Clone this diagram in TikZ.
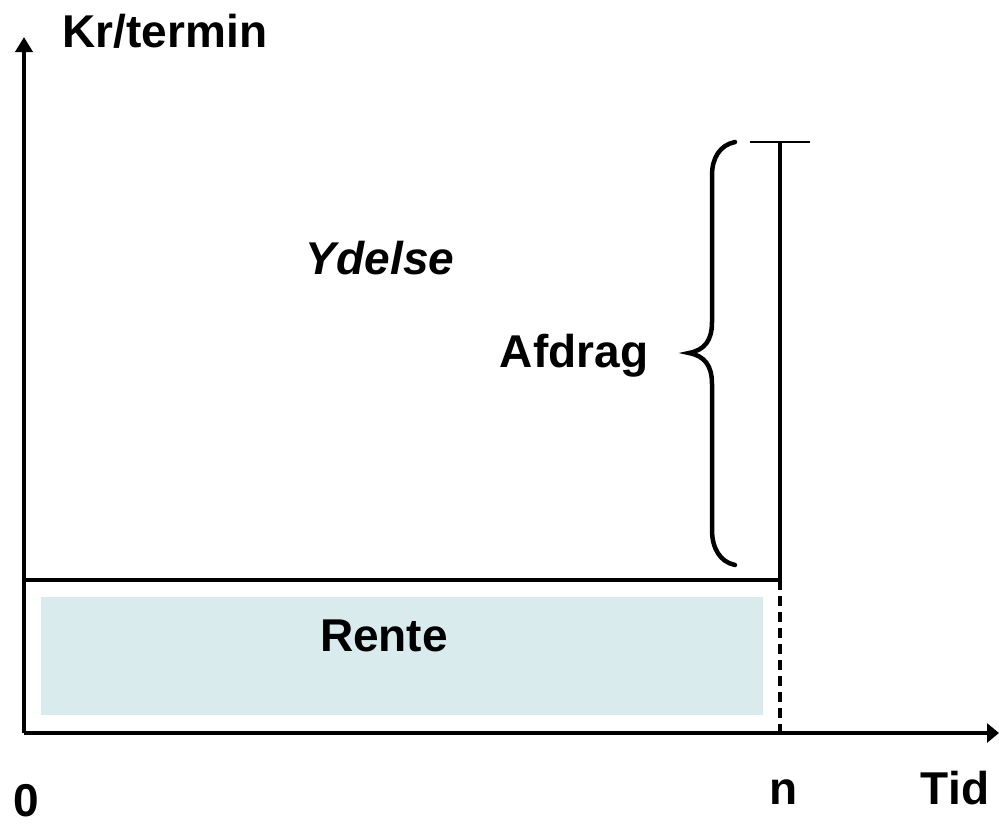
\documentclass[tikz,border=0pt]{standalone}
\usepackage{fontspec}
\setmainfont{Liberation Sans}
\usetikzlibrary{arrows.meta}
\definecolor{renteblue}{RGB}{218,235,238}
\tikzset{
  lbl/.style={inner sep=0pt, anchor=base, font=\fontsize{46}{46}\selectfont\bfseries},
  axis/.style={line width=4.5pt},
  thick line/.style={line width=4.5pt},
  bracestyle/.style={line width=4.5pt, line cap=round}
}
\begin{document}
\begin{tikzpicture}[x=1pt, y=-1pt]
  \useasboundingbox (0,0) rectangle (999,825);
  % interest band
  \fill[renteblue] (41,597) rectangle (763,715);
  % axes
  \coordinate (O) at (24,733);
  \coordinate (ytip) at (24,37);
  \coordinate (xtip) at (999,733);
  \draw[axis, -{Triangle[width=17pt,length=15pt]}] (O) -- (ytip);
  \draw[axis, -{Triangle[width=19pt,length=12pt]}] (O) -- (xtip);
  % top of the interest band and the final payment bar
  \coordinate (bandL) at (24,580);
  \coordinate (bandR) at (780,580);
  \coordinate (barTop) at (780,142);
  \coordinate (nAxis) at (780,733);
  \draw[thick line] (bandL) -- (bandR);
  \draw[thick line] (bandR) -- (barTop);
  \draw[line width=3.5pt, dash pattern=on 10pt off 6pt] (bandR) -- (nAxis);
  \coordinate (tickL) at (750,142);
  \coordinate (tickR) at (810,142);
  \draw[line width=2.5pt] (tickL) -- (tickR);
  % brace for the repayment part
  \draw[bracestyle] (735,142) .. controls (720,145) and (712,158) .. (712,175)
    -- (712,322) .. controls (712,340) and (705,350) .. (689,353)
    .. controls (705,356) and (712,366) .. (712,384)
    -- (712,530) .. controls (712,548) and (720,562) .. (735,565);
  % labels
  \node[lbl] (ylabel) at (165,47) {Kr/termin};
  \node[lbl] (ydelse) at (380,274) {\itshape Ydelse};
  \node[lbl] (afdrag) at (574,367) {Afdrag};
  \node[lbl] (rente) at (384,651) {Rente};
  \node[lbl] (zero) at (26,816) {0};
  \node[lbl] (n) at (784,804) {n};
  \node[lbl] (tid) at (955,804) {Tid};
\end{tikzpicture}
\end{document}
